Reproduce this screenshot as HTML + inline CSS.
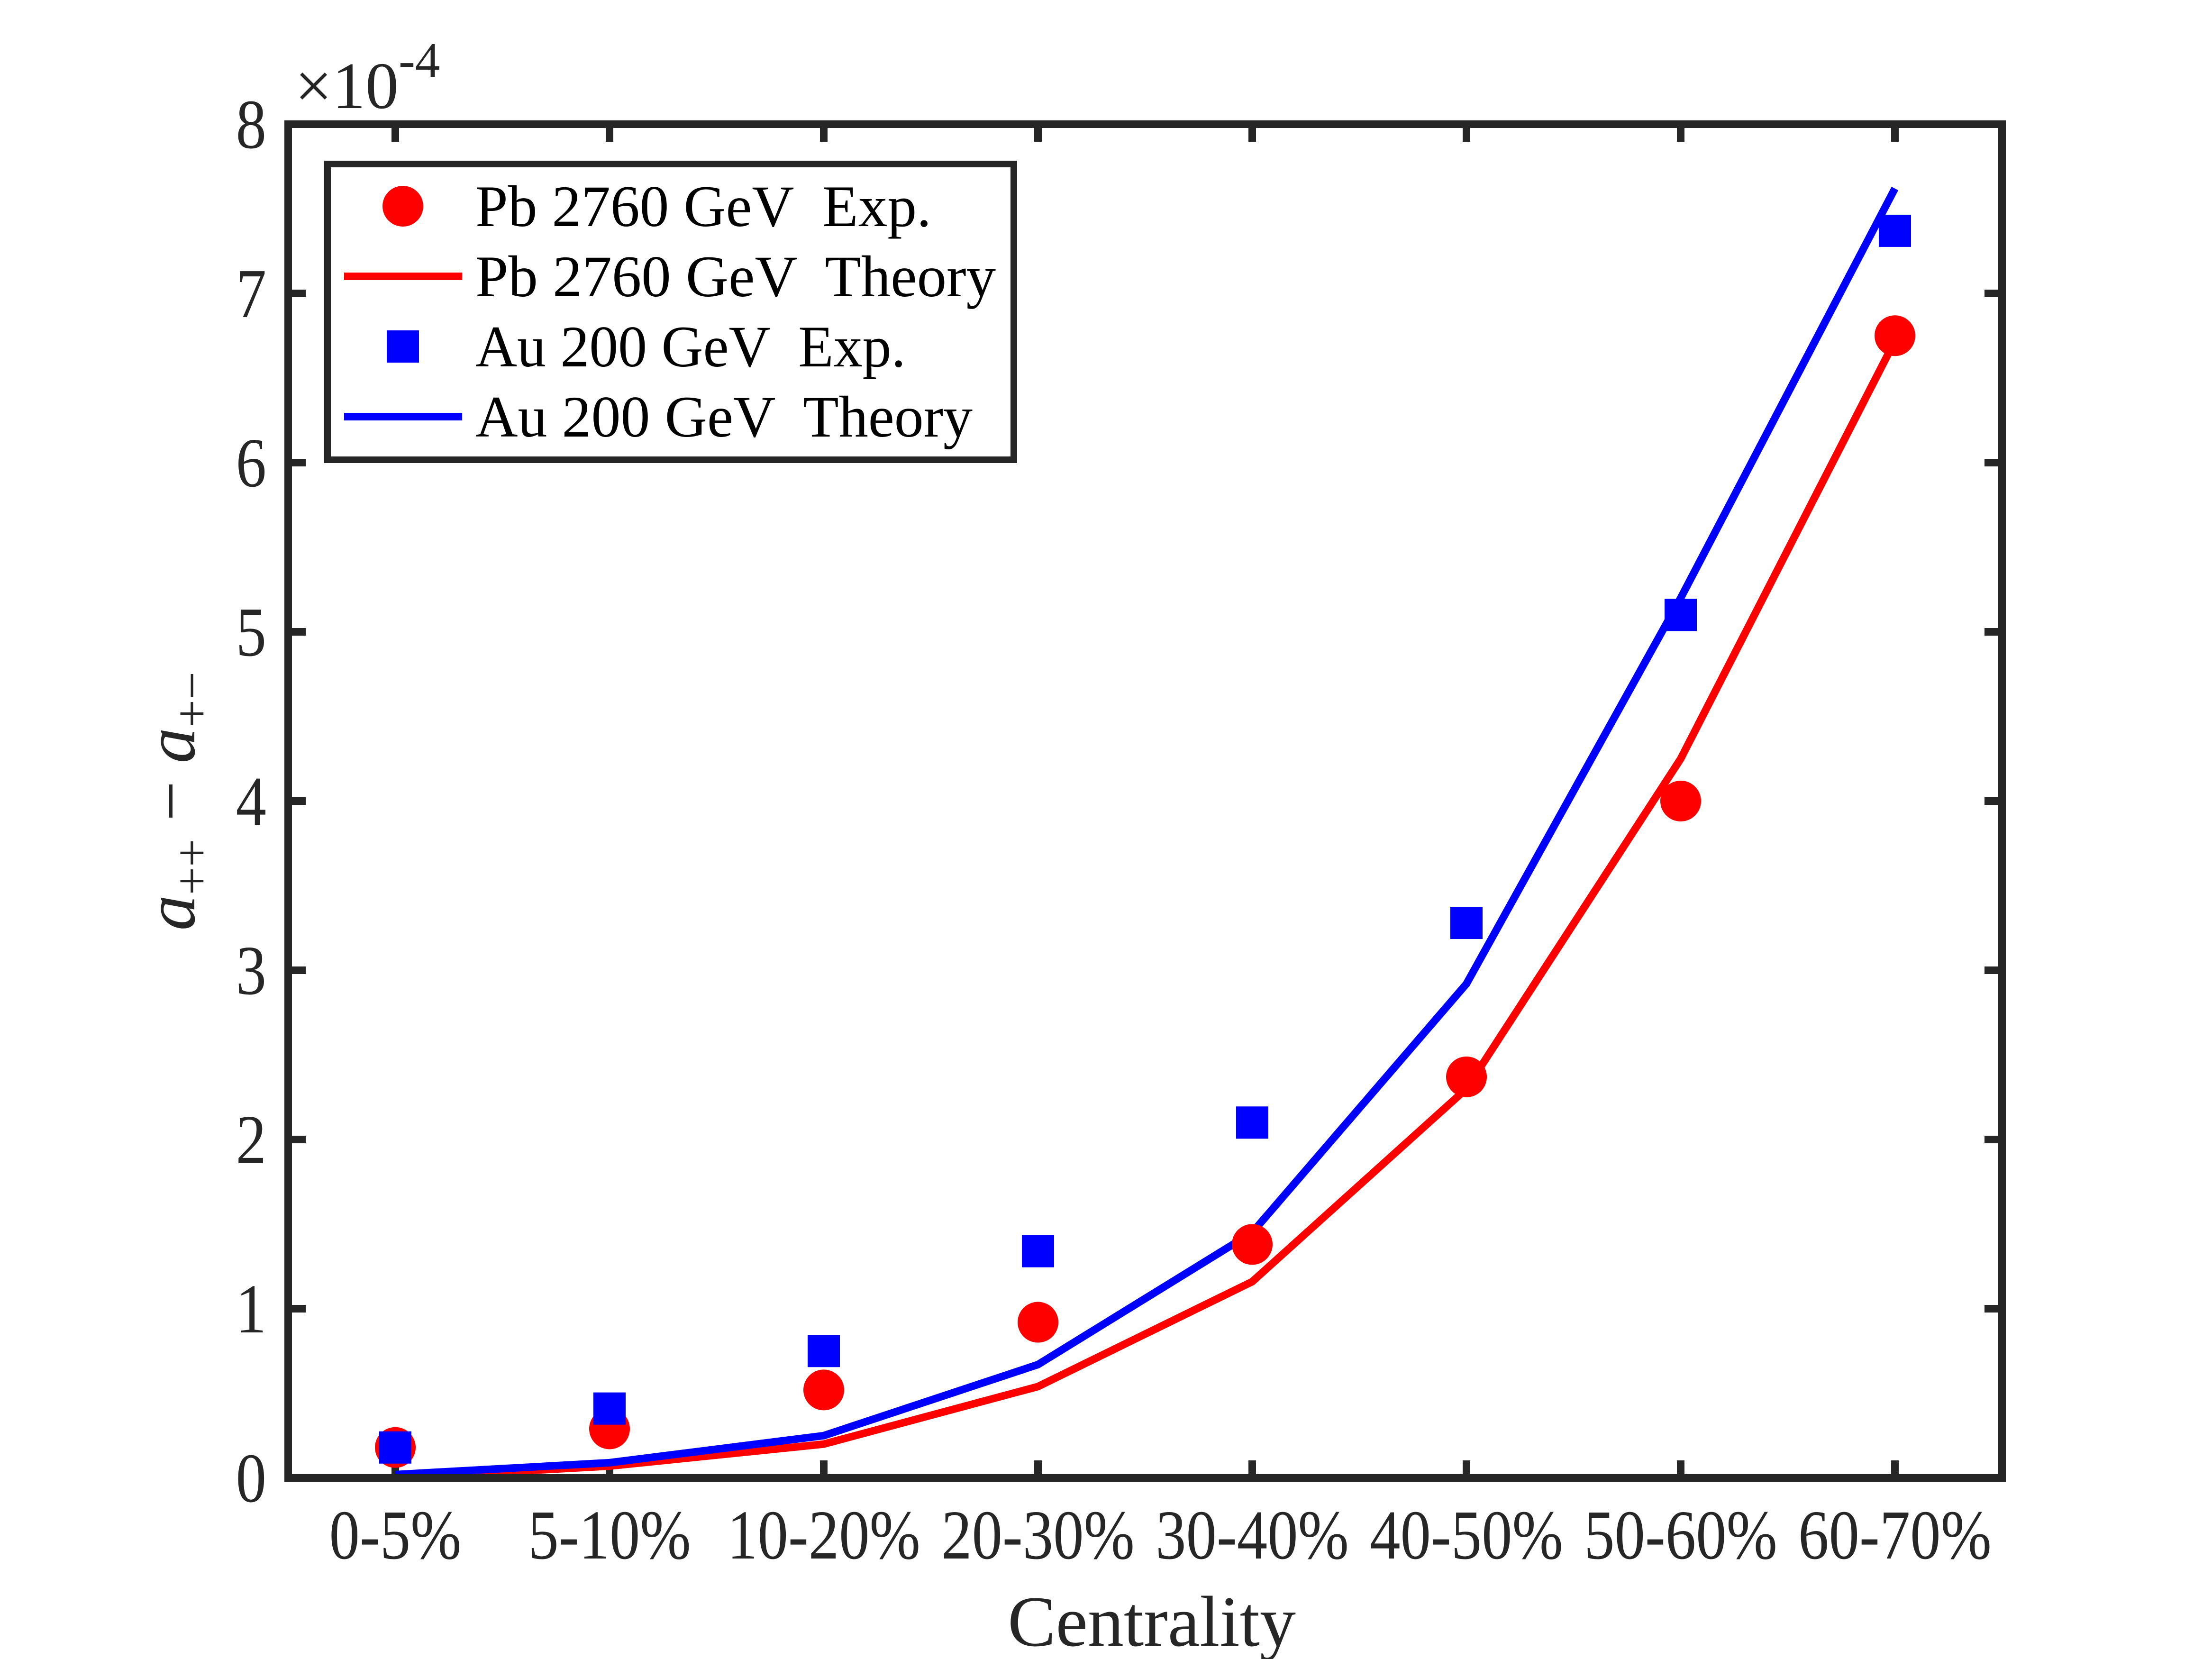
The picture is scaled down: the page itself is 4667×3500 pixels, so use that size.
<!DOCTYPE html>
<html><head><meta charset="utf-8"><style>
html,body{margin:0;padding:0;background:#fff;}
svg{display:block;font-family:"Liberation Serif","Times New Roman",serif;}
</style></head><body>
<svg id="chart" width="4667" height="3500" viewBox="0 0 4667 3500" xmlns="http://www.w3.org/2000/svg">
<rect width="4667" height="3500" fill="#fff"/>
<g id="plot"></g>
</svg>
<script>
const categories = ["0-5%","5-10%","10-20%","20-30%","30-40%","40-50%","50-60%","60-70%"];
const pbExp = [0.18,0.29,0.52,0.92,1.38,2.37,4.0,6.75];
const auExp = [0.18,0.41,0.75,1.34,2.10,3.28,5.10,7.37];
const pbTheory = [0.0,0.07,0.20,0.54,1.16,2.30,4.25,6.72];
const auTheory = [0.02,0.09,0.25,0.67,1.45,2.92,5.20,7.62];
const yTicks = [0,1,2,3,4,5,6,7,8];

const NS="http://www.w3.org/2000/svg";
const L=608,R=4224,T=262,B=3118;
const X0=834,DX=452;
function xs(i){return X0+i*DX;}
function ys(v){return B-(v/8)*(B-T);}
const g=document.getElementById('plot');
function mk(tag,attrs,parent){const e=document.createElementNS(NS,tag);for(const k in attrs)e.setAttribute(k,attrs[k]);(parent||g).appendChild(e);return e;}
function squeeze(el,f){const w=el.getComputedTextLength();el.setAttribute('textLength',w*f);el.setAttribute('lengthAdjust','spacingAndGlyphs');}
const AX="#262626";

categories.forEach((c,i)=>{
  const x=xs(i);
  const t1=mk('line',{x1:x,y1:B,x2:x,y2:B-37,stroke:AX,'stroke-width':16});
  
  
  const t2=mk('line',{x1:x,y1:T,x2:x,y2:T+37,stroke:AX,'stroke-width':16});
  
  
  const tl=mk('text',{x:x,y:3288,'font-size':148,'text-anchor':'middle',fill:AX});
  tl.textContent=c;
  
  
  squeeze(tl,0.87);
});
yTicks.forEach(v=>{
  const y=ys(v);
  const t1=mk('line',{x1:L,y1:y,x2:L+37,y2:y,stroke:AX,'stroke-width':16});
  
  
  const t2=mk('line',{x1:R,y1:y,x2:R-37,y2:y,stroke:AX,'stroke-width':16});
  
  
  const tl=mk('text',{x:562,y:y+50,'font-size':148,'text-anchor':'end',fill:AX});
  tl.textContent=String(v);
  
  
  squeeze(tl,0.87);
});

function line(vals,color,name){
  const p=vals.map((v,i)=>xs(i)+','+ys(v)).join(' ');
  const e=mk('polyline',{points:p,fill:'none',stroke:color,'stroke-width':16,'stroke-linejoin':'miter'});
  
  
}
line(pbTheory,'#ff0000','pb-theory-line');
line(auTheory,'#0000ff','au-theory-line');
pbExp.forEach((v,i)=>{
  const c=mk('circle',{cx:xs(i),cy:ys(v),r:43,fill:'#ff0000'});
  
  
});
auExp.forEach((v,i)=>{
  const s=mk('rect',{x:xs(i)-34,y:ys(v)-34,width:68,height:68,fill:'#0000ff'});
  
  
});

const box=mk('rect',{x:L,y:T,width:R-L,height:B-T,fill:'none',stroke:AX,'stroke-width':16});



const m=mk('text',{x:622,y:228,'font-size':140,fill:AX});


m.innerHTML='×10<tspan dy="-66" font-size="105">-4</tspan>';

const xl=mk('text',{x:2430,y:3472,'font-size':152,'text-anchor':'middle',fill:AX});
xl.textContent='Centrality';


const yl=mk('text',{x:0,y:0,'font-size':150,'text-anchor':'middle',fill:AX,transform:'translate(410,1690) rotate(-90)'});


yl.innerHTML='<tspan font-style="italic">a</tspan><tspan dy="30" font-size="105">++</tspan><tspan dy="-30"> − </tspan><tspan font-style="italic">a</tspan><tspan dy="30" font-size="105">+−</tspan>';

const lg=mk('g',{});


mk('rect',{x:691,y:346,width:1448,height:624,fill:'#fff',stroke:AX,'stroke-width':14},lg);
const rows=[
 {t:'Pb 2760 GeV  Exp.',k:'circle',c:'#ff0000',w:962},
 {t:'Pb 2760 GeV  Theory',k:'line',c:'#ff0000',w:1098},
 {t:'Au 200 GeV  Exp.',k:'square',c:'#0000ff',w:908},
 {t:'Au 200 GeV  Theory',k:'line',c:'#0000ff',w:1049}];
rows.forEach((r,i)=>{
  const y=435+i*148;
  const eg=mk('g',{},lg);
  
  
  if(r.k==='circle') mk('circle',{cx:850,cy:y,r:43,fill:r.c},eg);
  else if(r.k==='square') mk('rect',{x:816,y:y-34,width:68,height:68,fill:r.c},eg);
  else mk('line',{x1:726,y1:y,x2:975,y2:y,stroke:r.c,'stroke-width':16},eg);
  const tx=mk('text',{x:1003,y:y+42,'font-size':124,fill:'#000',textLength:r.w,lengthAdjust:'spacingAndGlyphs'},eg);
  tx.setAttribute('style','white-space:pre');
  tx.textContent=r.t;
});
</script>
</body></html>
